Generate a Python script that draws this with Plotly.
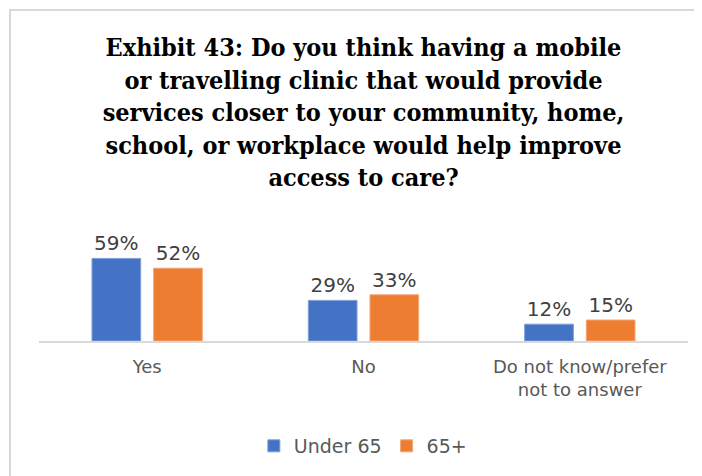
import plotly.graph_objects as go

categories = ["Yes", "No", "Do not know/prefer<br>not to answer"]
under_65 = [59, 29, 12]
over_65 = [52, 33, 15]
series_names = ["Under 65", "65+"]

title_text = ("Exhibit 43: Do you think having a mobile<br>or travelling clinic that would provide<br>"
              "services closer to your community, home,<br>school, or workplace would help improve<br>"
              "access to care?")

W, H = 702, 476
L, R, T, B = 31, 22, 235, 143
pw, ph = W - L - R, H - T - B

def px_x(x):
    return (x - L) / pw

def px_y(y):
    return (H - B - y) / ph

label_font = dict(family="DejaVu Sans", size=20, color="#404040")

fig = go.Figure()
fig.add_trace(go.Bar(x=categories, y=under_65, name=series_names[0],
                     marker=dict(color="#4472C4", line=dict(color="#7f9fd8", width=1)),
                     text=[f"{v}%" for v in under_65], textposition="outside",
                     textfont=label_font, cliponaxis=False))
fig.add_trace(go.Bar(x=categories, y=over_65, name=series_names[1],
                     marker=dict(color="#ED7D31", line=dict(color="#f4a877", width=1)),
                     text=[f"{v}%" for v in over_65], textposition="outside",
                     textfont=label_font, cliponaxis=False))

fig.update_layout(
    width=W, height=H,
    margin=dict(l=L, r=R, t=T, b=B),
    paper_bgcolor="white", plot_bgcolor="white",
    barmode="group", bargap=0.43, bargroupgap=0.21,
    title=dict(text=title_text, x=0.5, xref="paper", xanchor="center",
               y=1 - 48 / H, yref="container", yanchor="top",
               font=dict(family="DejaVu Serif Condensed, DejaVu Serif", size=25,
                         color="black", weight="bold")),
    showlegend=True,
    legend=dict(orientation="h", x=0.499, xanchor="center", xref="paper",
                y=px_y(438), yanchor="middle",
                font=dict(family="DejaVu Sans", size=19, color="#595959"),
                itemwidth=30, tracegroupgap=0),
    xaxis=dict(showline=True, linecolor="#d9d9d9", linewidth=2, ticks="",
               tickfont=dict(family="DejaVu Sans", size=18, color="#595959"),
               ticklabelstandoff=8, showgrid=False),
    yaxis=dict(range=[0, 70], visible=False, showgrid=False),
    shapes=[dict(type="rect", xref="paper", yref="paper",
                 x0=px_x(2), x1=px_x(712), y0=px_y(490), y1=px_y(2),
                 line=dict(color="#d9d9d9", width=2), fillcolor="rgba(0,0,0,0)", layer="below")],
)

fig.write_html("out.html")
